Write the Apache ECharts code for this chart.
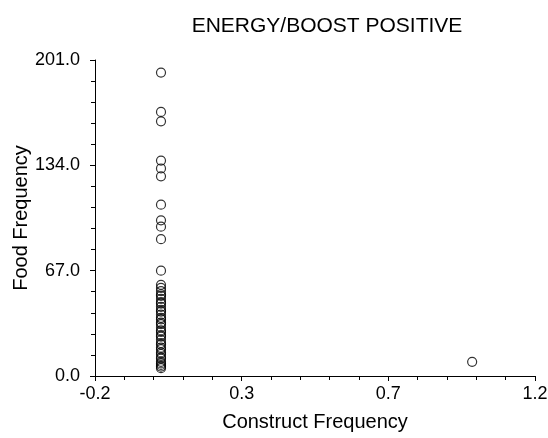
<!DOCTYPE html>
<html>
<head>
<meta charset="utf-8">
<script src="https://cdn.jsdelivr.net/npm/echarts@6/dist/echarts.min.js"></script>
<style>html,body{margin:0;padding:0;background:#fff;}#c{width:548px;height:438px;}</style>
</head>
<body>
<div id="c"></div>
<script>
const titleText = "ENERGY/BOOST POSITIVE";
const xAxisName = "Construct Frequency";
const yAxisName = "Food Frequency";
const xTicks = [-0.2, 0.2667, 0.7333, 1.2];
const yTicks = [0, 67, 134, 201];
const constructFreq = [0.01,0.01,0.01,0.01,0.01,0.01,0.01,0.01,0.01,0.01,0.01,0.01,0.01,0.01,0.01,0.01,0.01,0.01,0.01,0.01,0.01,0.01,0.01,0.01,0.01,0.01,0.01,0.01,0.01,0.01,0.01,0.01,0.01,0.01,0.01,0.01,0.01,0.01,0.01,0.01,0.01,0.01,0.01,0.01,0.01,0.01,1.0];
const foodFreq = [193,168,162,137,132,127,109,99,95,87,67,58,56,54,52,51,49,47,46,44,42,41,39,37,36,34,33,31,29,28,26,25,23,21,20,18,17,15,14,12,11,9,8,7,6,5,9];

const data = constructFreq.map((x, i) => [x, foodFreq[i]]);
const font = "Liberation Sans, Arial, sans-serif";
const chart = echarts.init(document.getElementById('c'), null, {renderer: 'canvas'});
chart.setOption({
  animation: false,
  backgroundColor: '#fff',
  title: {text: titleText, left: 322, textAlign: 'center', top: 11,
    textStyle: {fontFamily: font, fontWeight: 'normal', fontSize: 21, color: '#000'}},
  grid: {left: 95, right: 13, top: 60, bottom: 62, containLabel: false, outerBoundsMode: 'none'},
  xAxis: {
    type: 'value', min: xTicks[0], max: xTicks[xTicks.length-1], interval: (xTicks[3]-xTicks[0])/3,
    name: xAxisName, nameLocation: 'middle', nameGap: 36, nameMoveOverlap: false,
    nameTextStyle: {fontFamily: font, fontSize: 20, color: '#000'},
    axisLine: {show: true, onZero: false, lineStyle: {color: '#000', width: 1}},
    axisTick: {show: true, length: 5, lineStyle: {color: '#000'}},
    minorTick: {show: true, splitNumber: 5, length: 4, lineStyle: {color: '#000'}},
    splitLine: {show: false},
    axisLabel: {fontFamily: font, fontSize: 18, color: '#000', margin: 9,
      formatter: v => v.toFixed(1)}
  },
  yAxis: {
    type: 'value', min: yTicks[0], max: yTicks[yTicks.length-1], interval: yTicks[1]-yTicks[0],
    name: yAxisName, nameLocation: 'middle', nameGap: 64, nameRotate: 90, nameMoveOverlap: false,
    nameTextStyle: {fontFamily: font, fontSize: 20, color: '#000'},
    axisLine: {show: true, onZero: false, lineStyle: {color: '#000', width: 1}},
    axisTick: {show: true, length: 5, lineStyle: {color: '#000'}},
    minorTick: {show: true, splitNumber: 5, length: 4, lineStyle: {color: '#000'}},
    splitLine: {show: false},
    axisLabel: {fontFamily: font, fontSize: 18, color: '#000', margin: 15,
      formatter: v => v.toFixed(1)}
  },
  series: [{
    type: 'scatter', data: data, symbol: 'circle', symbolSize: 9,
    itemStyle: {color: 'rgba(255,255,255,0)', borderColor: '#000', borderWidth: 1.2}
  }]
});
</script>
</body>
</html>
